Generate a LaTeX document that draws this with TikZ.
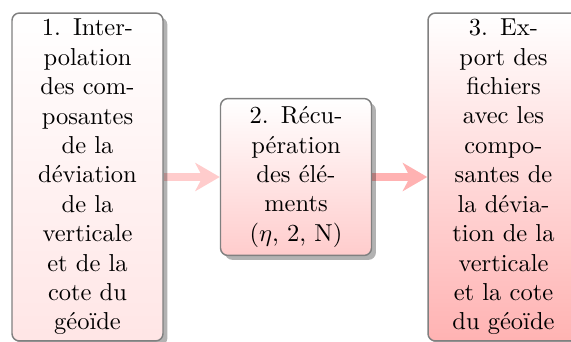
\documentclass[tikz,border=0pt]{standalone}
\usepackage{fontspec}
\usetikzlibrary{shadows,arrows.meta,backgrounds}
\begin{document}
\begin{tikzpicture}[x=0.408pt,y=-0.408pt,
  stepbox/.style={draw=black!50, line width=0.6pt, rounded corners=3pt,
    align=center, text width=55pt, inner xsep=3.3pt, inner ysep=0pt,
    minimum width=61.6pt, top color=white,
    drop shadow={shadow xshift=1.8pt, shadow yshift=-1.8pt, fill=black, opacity=0.3}},
  tallbox/.style={stepbox, minimum height=133.8pt},
  flow/.style={line width=3pt, -{Stealth[length=10pt,width=11.5pt,inset=3pt]}}]
  \useasboundingbox (0,0) rectangle (571,341);
  \clip (0,0) rectangle (571,341);

  % the three processing steps
  \node[tallbox, bottom color=red!10] (interp) at (87.5,177)
    {1. Inter-\\polation\\des com-\\posantes\\de la\\déviation\\de la\\verticale\\et de la\\cote du\\géoïde};
  \node[stepbox, minimum height=64pt, bottom color=red!20] (recup) at (296,177)
    {2. Récu-\\pération\\des élé-\\ments\\($\eta$, 2, N)};
  \node[tallbox, bottom color=red!30] (export) at (503.5,177)
    {3. Ex-\\port des\\fichiers\\avec les\\compo-\\santes de\\la dévia-\\tion de la\\verticale\\et la cote\\du géoïde};

  % flow arrows, kept behind the shadows
  \begin{scope}[on background layer]
    \draw[flow, red!20] (interp.east) -- (recup.west);
    \draw[flow, red!30] (recup.east) -- (export.west);
  \end{scope}
\end{tikzpicture}
\end{document}
